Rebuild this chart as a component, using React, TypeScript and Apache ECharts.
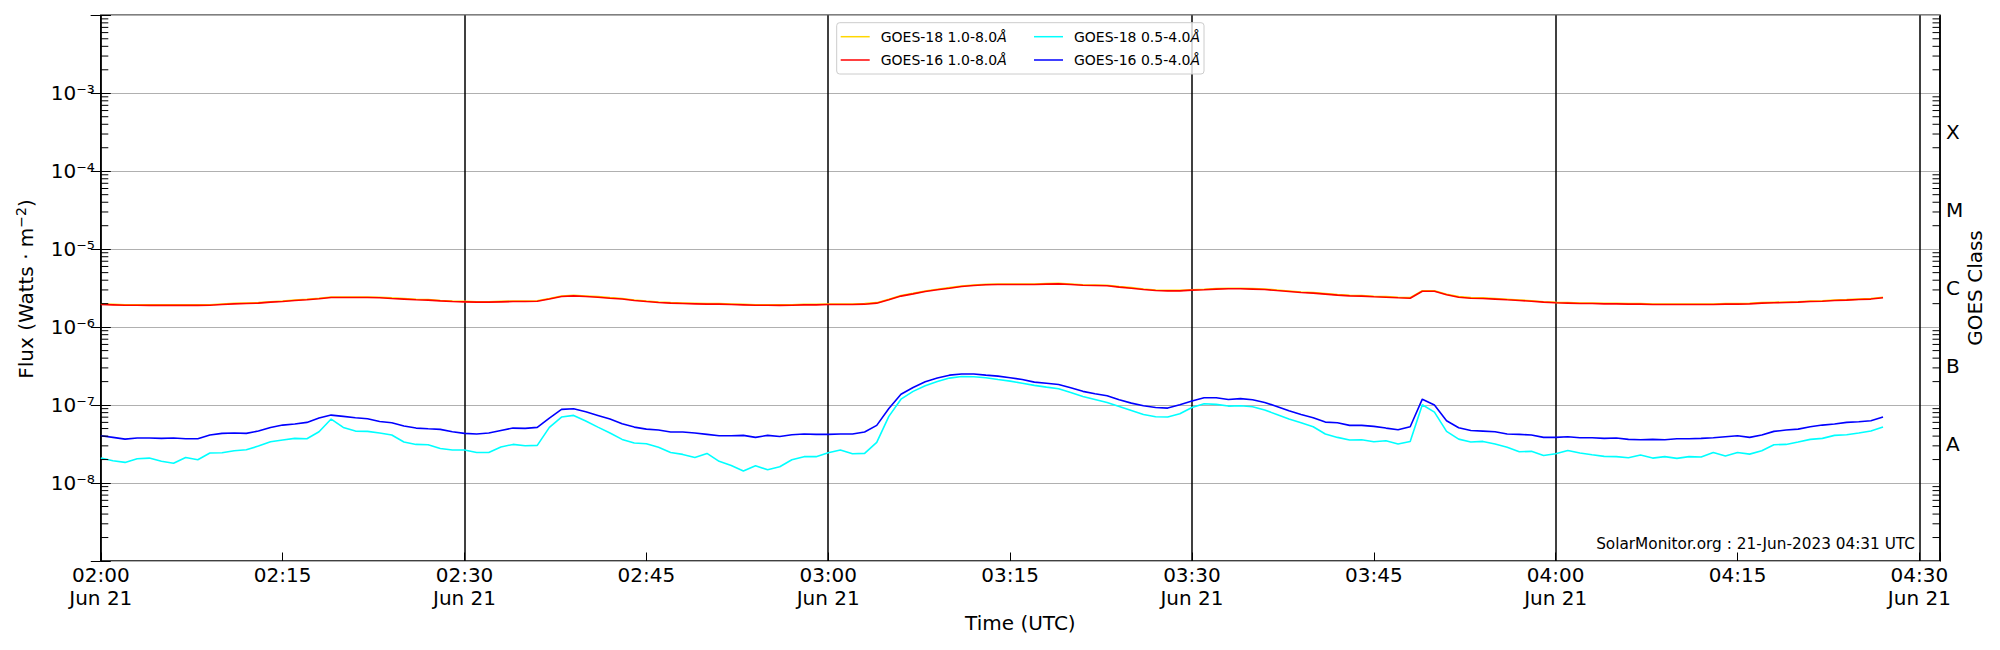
import React, { useEffect, useRef } from 'react';
import * as echarts from 'echarts';

// ---------- data (1-minute cadence starting at START_HOUR:00 UTC) ----------
const START_HOUR = 2;
const DATE_LABEL = 'Jun 21';
const X_MAX_MINUTES = 151.7; // 04:31:42
const X_TICK_STEP = 15;
const X_LINE_STEP = 30;

const UNIT_LONG = 1e-6; // 1.0-8.0 Å channel values are in units of 1e-6 W m^-2
const UNIT_SHORT = 1e-8; // 0.5-4.0 Å channel values are in units of 1e-8 W m^-2

const GOES16_LONG = [
  1.95, 1.93, 1.91, 1.91, 1.9, 1.9, 1.9, 1.9, 1.9, 1.91,
  1.95, 1.99, 2.01, 2.03, 2.09, 2.13, 2.2, 2.24, 2.31, 2.4,
  2.4, 2.4, 2.4, 2.38, 2.33, 2.29, 2.24, 2.22, 2.17, 2.13,
  2.11, 2.09, 2.09, 2.11, 2.13, 2.13, 2.15, 2.29, 2.47, 2.52,
  2.47, 2.42, 2.35, 2.29, 2.2, 2.13, 2.07, 2.03, 2.01, 1.99,
  1.97, 1.97, 1.95, 1.93, 1.91, 1.91, 1.9, 1.91, 1.93, 1.93,
  1.95, 1.95, 1.95, 1.97, 2.03, 2.24, 2.5, 2.67, 2.87, 3.01,
  3.16, 3.32, 3.42, 3.49, 3.52, 3.52, 3.52, 3.52, 3.56, 3.59,
  3.52, 3.45, 3.42, 3.39, 3.26, 3.16, 3.04, 2.95, 2.92, 2.92,
  2.98, 3.01, 3.07, 3.1, 3.1, 3.07, 3.04, 2.95, 2.87, 2.78,
  2.73, 2.65, 2.57, 2.52, 2.5, 2.45, 2.42, 2.38, 2.35, 2.89,
  2.89, 2.6, 2.42, 2.35, 2.33, 2.29, 2.24, 2.2, 2.15, 2.09,
  2.05, 2.03, 2.01, 2.01, 1.99, 1.99, 1.97, 1.97, 1.95, 1.95,
  1.95, 1.95, 1.95, 1.95, 1.97, 1.97, 1.99, 2.03, 2.05, 2.07,
  2.09, 2.13, 2.15, 2.2, 2.22, 2.26, 2.29, 2.38,
];

const GOES18_LONG = [
  1.98, 1.96, 1.94, 1.94, 1.93, 1.93, 1.93, 1.93, 1.93, 1.94,
  1.98, 2.02, 2.04, 2.06, 2.12, 2.16, 2.23, 2.28, 2.35, 2.44,
  2.44, 2.44, 2.44, 2.42, 2.37, 2.33, 2.28, 2.26, 2.2, 2.16,
  2.14, 2.12, 2.12, 2.14, 2.16, 2.16, 2.18, 2.33, 2.51, 2.56,
  2.51, 2.46, 2.39, 2.33, 2.23, 2.16, 2.1, 2.06, 2.04, 2.02,
  2.0, 2.0, 1.98, 1.96, 1.94, 1.94, 1.93, 1.94, 1.96, 1.96,
  1.98, 1.98, 1.98, 2.0, 2.06, 2.28, 2.54, 2.71, 2.91, 3.06,
  3.21, 3.37, 3.47, 3.54, 3.57, 3.57, 3.57, 3.57, 3.61, 3.64,
  3.57, 3.5, 3.47, 3.44, 3.31, 3.21, 3.09, 3.0, 2.96, 2.96,
  3.02, 3.06, 3.12, 3.15, 3.15, 3.12, 3.09, 3.0, 2.91, 2.82,
  2.77, 2.69, 2.61, 2.56, 2.54, 2.49, 2.46, 2.42, 2.39, 2.93,
  2.93, 2.64, 2.46, 2.39, 2.37, 2.33, 2.28, 2.23, 2.18, 2.12,
  2.08, 2.06, 2.04, 2.04, 2.02, 2.02, 2.0, 2.0, 1.98, 1.98,
  1.98, 1.98, 1.98, 1.98, 2.0, 2.0, 2.02, 2.06, 2.08, 2.1,
  2.12, 2.16, 2.18, 2.23, 2.25, 2.29, 2.33, 2.42,
];

const GOES18_SHORT = [
  2.09, 1.93, 1.84, 2.05, 2.09, 1.9, 1.79, 2.13, 1.99, 2.43,
  2.45, 2.6, 2.67, 2.98, 3.39, 3.56, 3.74, 3.7, 4.55, 6.62,
  5.17, 4.64, 4.6, 4.38, 4.13, 3.36, 3.13, 3.1, 2.78, 2.65,
  2.65, 2.47, 2.47, 2.9, 3.13, 3.01, 3.04, 5.17, 7.02, 7.37,
  6.24, 5.22, 4.38, 3.63, 3.26, 3.19, 2.87, 2.47, 2.33, 2.13,
  2.4, 1.9, 1.68, 1.43, 1.67, 1.48, 1.62, 1.99, 2.18, 2.18,
  2.45, 2.65, 2.38, 2.4, 3.32, 7.16, 11.9, 15.0, 17.7, 20.1,
  22.2, 23.3, 23.1, 22.4, 21.3, 20.3, 19.1, 17.9, 17.0, 16.2,
  14.5, 12.9, 11.8, 10.8, 9.61, 8.54, 7.59, 7.09, 7.02, 7.74,
  9.33, 10.4, 10.2, 9.71, 9.8, 9.52, 8.63, 7.59, 6.62, 5.94,
  5.27, 4.25, 3.85, 3.56, 3.59, 3.39, 3.49, 3.16, 3.42, 10.1,
  8.13, 4.6, 3.66, 3.36, 3.42, 3.16, 2.87, 2.52, 2.55, 2.26,
  2.38, 2.62, 2.43, 2.31, 2.2, 2.18, 2.11, 2.29, 2.09, 2.18,
  2.07, 2.18, 2.16, 2.47, 2.22, 2.47, 2.35, 2.6, 3.1, 3.13,
  3.36, 3.63, 3.74, 4.09, 4.17, 4.38, 4.64, 5.22,
];

const GOES16_SHORT = [
  4.04, 3.85, 3.66, 3.78, 3.78, 3.74, 3.78, 3.7, 3.7, 4.13,
  4.34, 4.38, 4.34, 4.64, 5.17, 5.54, 5.71, 6.0, 6.82, 7.44,
  7.16, 6.89, 6.68, 6.17, 5.94, 5.38, 5.07, 4.97, 4.88, 4.55,
  4.34, 4.25, 4.38, 4.73, 5.07, 5.02, 5.17, 6.82, 8.8, 8.97,
  8.21, 7.37, 6.62, 5.76, 5.22, 4.92, 4.78, 4.51, 4.51, 4.38,
  4.21, 4.04, 4.04, 4.09, 3.85, 4.09, 3.96, 4.17, 4.25, 4.21,
  4.21, 4.25, 4.25, 4.51, 5.49, 9.06, 13.8, 16.8, 19.9, 22.2,
  24.2, 25.0, 25.0, 24.2, 23.5, 22.4, 21.3, 19.7, 19.1, 18.4,
  16.7, 15.0, 14.0, 13.2, 11.7, 10.6, 9.8, 9.33, 9.15, 10.1,
  11.3, 12.4, 12.4, 11.8, 12.1, 11.7, 10.8, 9.61, 8.46, 7.59,
  6.89, 6.05, 5.94, 5.49, 5.49, 5.33, 5.07, 4.83, 5.27, 11.9,
  10.0, 6.3, 5.12, 4.73, 4.64, 4.55, 4.25, 4.21, 4.13, 3.85,
  3.85, 3.93, 3.81, 3.81, 3.74, 3.78, 3.63, 3.59, 3.63, 3.59,
  3.7, 3.7, 3.74, 3.81, 3.93, 4.04, 3.85, 4.13, 4.6, 4.78,
  4.92, 5.27, 5.54, 5.71, 6.0, 6.11, 6.3, 7.02,
];

const SERIES_NAMES = [
  'GOES-18 1.0-8.0Å',
  'GOES-16 1.0-8.0Å',
  'GOES-18 0.5-4.0Å',
  'GOES-16 0.5-4.0Å',
];
const SERIES_COLORS = ['#ffd700', '#ff0000', '#00ffff', '#0000ff'];

// axis ticks / labels
const Y_MIN_EXP = -9;
const Y_MAX_EXP = -2;
const Y_LABEL_EXPONENTS = [-8, -7, -6, -5, -4, -3];
const SUPERSCRIPT_DIGITS = ['⁰', '¹', '²', '³', '⁴', '⁵', '⁶', '⁷', '⁸', '⁹'];
const SUPERSCRIPT_MINUS = '⁻';
const MINOR_MANTISSAS = [2, 3, 4, 5, 6, 7, 8, 9];
const MINOR_DECADES = [-9, -8, -7, -6, -5, -4, -3];
const CLASS_LABELS = ['A', 'B', 'C', 'M', 'X'];
const CLASS_CENTER_EXPONENTS = [-7.5, -6.5, -5.5, -4.5, -3.5];

const WATERMARK = 'SolarMonitor.org : 21-Jun-2023 04:31 UTC';
const FONT = 'DejaVu Sans';

const pad2 = (n: number) => (n < 10 ? '0' + n : '' + n);
const toPoints = (values: number[], unit: number) => values.map((v, i) => [i, v * unit]);

const SUP_RICH = {
  b: { fontFamily: FONT, fontSize: 20, fill: '#000', lineHeight: 24 },
  s: { fontFamily: FONT, fontSize: 14, fill: '#000', lineHeight: 16, padding: [0, 0, 11, 0] },
};

function buildOption() {
  const minorTicks = MINOR_DECADES.flatMap((e) => MINOR_MANTISSAS.map((m) => [0, m * Math.pow(10, e)]));
  const seriesData = [
    toPoints(GOES18_LONG, UNIT_LONG),
    toPoints(GOES16_LONG, UNIT_LONG),
    toPoints(GOES18_SHORT, UNIT_SHORT),
    toPoints(GOES16_SHORT, UNIT_SHORT),
  ];
  const legendFormatter = (name: string) => `{n|${name.slice(0, -1)}}{i|Å}`;
  const legendText = {
    fontFamily: FONT,
    fontSize: 14,
    color: '#000',
    lineHeight: 16,
    padding: [0, 0, 0, 6],
    rich: {
      n: { fontFamily: FONT, fontSize: 14, color: '#000', lineHeight: 16 },
      i: { fontFamily: FONT, fontSize: 14, color: '#000', lineHeight: 16, fontStyle: 'italic' },
    },
  };
  const legendCommon = {
    orient: 'vertical',
    top: 28.7,
    itemWidth: 29,
    itemHeight: 1.5,
    itemGap: 7.3,
    icon: 'rect',
    selectedMode: false,
    padding: 0,
    z: 10,
    formatter: legendFormatter,
    textStyle: legendText,
  };
  const classByExp: Record<string, string> = {};
  CLASS_CENTER_EXPONENTS.forEach((e, i) => (classByExp[String(e)] = CLASS_LABELS[i]));

  return {
    animation: false,
    backgroundColor: '#ffffff',
    textStyle: { fontFamily: FONT },
    grid: {
      left: 100.8,
      right: 60,
      top: 15.3,
      bottom: 89,
      show: true,
      borderColor: '#000',
      borderWidth: 1.5,
      backgroundColor: 'transparent',
      containLabel: false,
      outerBoundsMode: 'none',
    },
    legend: [
      { ...legendCommon, left: 840.7, data: [SERIES_NAMES[0], SERIES_NAMES[1]] },
      { ...legendCommon, left: 1034, data: [SERIES_NAMES[2], SERIES_NAMES[3]] },
    ],
    xAxis: [
      {
        type: 'value',
        min: 0,
        max: X_MAX_MINUTES,
        interval: X_TICK_STEP,
        axisLine: { show: false },
        axisTick: { show: true, inside: true, length: 8.5, lineStyle: { color: '#000', width: 1 } },
        splitLine: { show: false },
        axisLabel: {
          show: true,
          margin: 2,
          fontFamily: FONT,
          fontSize: 20,
          lineHeight: 23.3,
          color: '#000',
          align: 'center',
          formatter: (v: number) => {
            const m = Math.round(v);
            if (Math.abs(v - m) > 1e-6 || m % X_TICK_STEP !== 0) return '';
            const t = `${pad2(START_HOUR + Math.floor(m / 60))}:${pad2(m % 60)}`;
            return m % X_LINE_STEP === 0 ? `${t}\n${DATE_LABEL}` : t;
          },
        },
      },
      {
        type: 'value',
        min: 0,
        max: X_MAX_MINUTES,
        interval: X_LINE_STEP,
        position: 'top',
        axisLine: { show: false },
        axisTick: { show: false },
        axisLabel: { show: false },
        splitLine: { show: true, lineStyle: { color: '#000', width: 1.5 } },
      },
    ],
    yAxis: [
      {
        type: 'log',
        logBase: 10,
        min: Math.pow(10, Y_MIN_EXP),
        max: Math.pow(10, Y_MAX_EXP),
        splitNumber: 7,
        position: 'left',
        axisLine: { show: false },
        axisTick: { show: true, inside: true, length: 10, lineStyle: { color: '#000', width: 1 } },
        splitLine: { show: true, lineStyle: { color: '#b0b0b0', width: 1.2 } },
        axisLabel: {
          show: true,
          margin: 6,
          fontFamily: FONT,
          fontSize: 20,
          color: '#000',
          formatter: (v: number) => {
            const e = Math.round(Math.log10(v));
            if (!Y_LABEL_EXPONENTS.includes(e)) return '';
            const digits = String(Math.abs(e)).split('').map((d) => SUPERSCRIPT_DIGITS[Number(d)]).join('');
            return '10' + (e < 0 ? SUPERSCRIPT_MINUS : '') + digits;
          },
        },
      },
      {
        type: 'log',
        logBase: 10,
        min: Math.pow(10, Y_MIN_EXP),
        max: Math.pow(10, Y_MAX_EXP),
        splitNumber: 7,
        position: 'right',
        axisLine: { show: false },
        axisTick: { show: true, inside: true, length: 10, lineStyle: { color: '#000', width: 1 } },
        splitLine: { show: false },
        axisLabel: { show: false },
      },
      {
        type: 'value',
        min: Y_MIN_EXP,
        max: Y_MAX_EXP,
        interval: 0.5,
        position: 'right',
        axisLine: { show: false },
        axisTick: { show: false },
        splitLine: { show: false },
        axisLabel: {
          show: true,
          margin: 6,
          fontFamily: FONT,
          fontSize: 20,
          color: '#000',
          align: 'left',
          padding: [8, 0, 0, 0],
          formatter: (v: number) => classByExp[String(v)] || '',
        },
      },
    ],
    series: [
      ...SERIES_NAMES.map((name, i) => ({
        name,
        type: 'line',
        xAxisIndex: 0,
        yAxisIndex: 0,
        data: seriesData[i],
        showSymbol: false,
        symbol: 'none',
        color: SERIES_COLORS[i],
        lineStyle: { color: SERIES_COLORS[i], width: 1.6 },
        z: 2 + i,
        silent: true,
      })),
      {
        type: 'custom',
        name: 'minorTicks',
        xAxisIndex: 0,
        yAxisIndex: 0,
        silent: true,
        clip: false,
        z: 8,
        data: minorTicks,
        encode: { x: 0, y: 1 },
        renderItem: (params: any, api: any) => {
          const y = api.coord([0, api.value(1)])[1];
          const cs = params.coordSys;
          const st = { stroke: '#000', lineWidth: 1 };
          return {
            type: 'group',
            children: [
              { type: 'line', shape: { x1: cs.x, y1: y, x2: cs.x + 7.5, y2: y }, style: st },
              { type: 'line', shape: { x1: cs.x + cs.width - 7.5, y1: y, x2: cs.x + cs.width, y2: y }, style: st },
            ],
          };
        },
      },
    ],
    graphic: [
      {
        type: 'rect',
        z: 5,
        shape: { x: 836.7, y: 22.7, width: 367.3, height: 51.3, r: 3 },
        style: { fill: 'rgba(255,255,255,0.8)', stroke: '#cccccc', lineWidth: 1 },
      },
      {
        type: 'text',
        x: 26,
        y: 289,
        rotation: Math.PI / 2,
        style: {
          text: '{b|Flux (Watts · m}{s|\u22122}{b|)}',
          align: 'center',
          verticalAlign: 'middle',
          fill: '#000',
          rich: SUP_RICH,
        },
      },
      {
        type: 'text',
        x: 1975,
        y: 288,
        rotation: Math.PI / 2,
        style: {
          text: 'GOES Class',
          fontFamily: FONT,
          fontSize: 20,
          fill: '#000',
          align: 'center',
          verticalAlign: 'middle',
        },
      },
      {
        type: 'text',
        x: 1020.4,
        y: 623,
        style: {
          text: 'Time (UTC)',
          fontFamily: FONT,
          fontSize: 20,
          fill: '#000',
          align: 'center',
          verticalAlign: 'middle',
        },
      },
      {
        type: 'text',
        x: 1915,
        y: 544,
        z: 6,
        style: {
          text: WATERMARK,
          fontFamily: FONT,
          fontSize: 15.3,
          fill: '#000',
          align: 'right',
          verticalAlign: 'middle',
        },
      },
    ],
  };
}

export default function App() {
  const ref = useRef<HTMLDivElement>(null);
  useEffect(() => {
    if (!ref.current) return;
    const chart = echarts.init(ref.current, undefined, { renderer: 'svg' });
    chart.setOption(buildOption() as any);
    return () => chart.dispose();
  }, []);
  return (
    <div
      ref={ref}
      style={{ position: 'absolute', left: 0, top: 0, width: 2000, height: 650, background: '#fff' }}
    />
  );
}
